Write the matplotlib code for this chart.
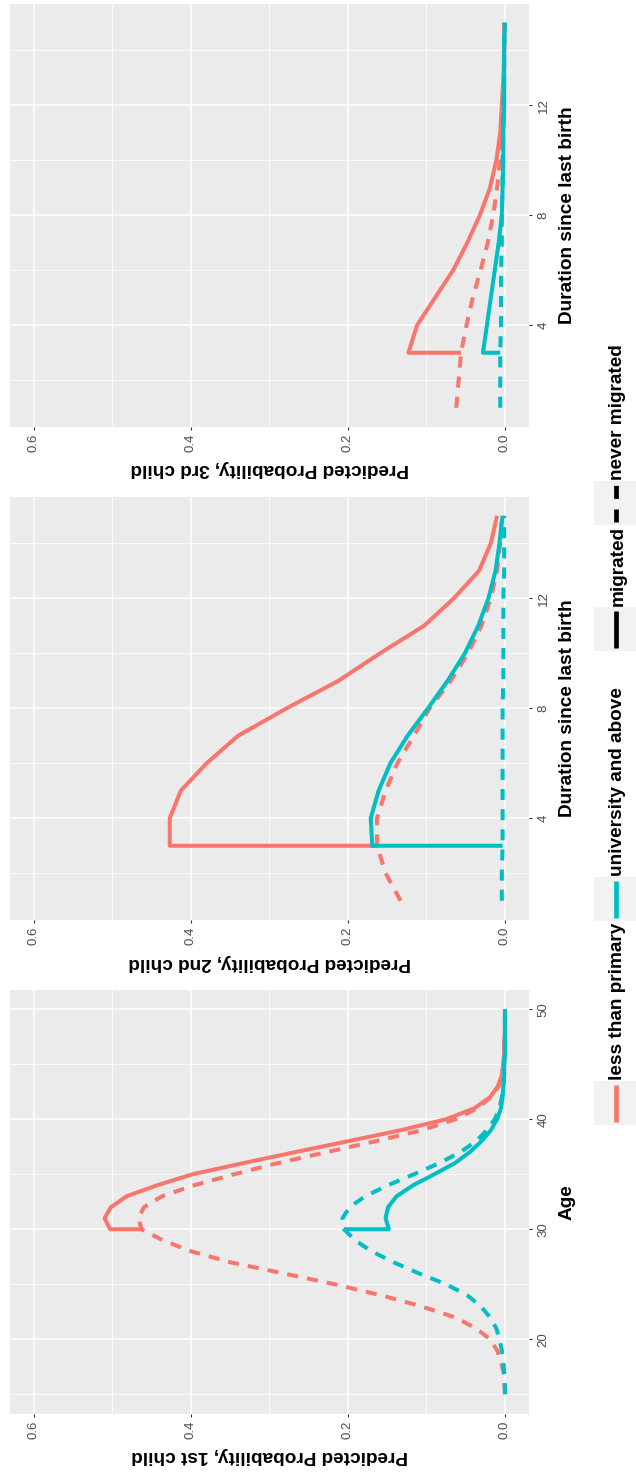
import numpy as np
import matplotlib.pyplot as plt
from matplotlib.patches import Rectangle

plt.rcParams['font.family'] = ['Liberation Sans', 'DejaVu Sans']

RED = '#F8766D'
TEAL = '#00BFC4'

# ---- 1st child, by age ----
age = np.arange(15, 51)
age_mig = np.r_[30, np.arange(30, 51)]   # migrants start at 30 (step at migration)

p1_low_never = [0.000, 0.001, 0.002, 0.005, 0.010, 0.019, 0.037, 0.064, 0.107, 0.158,
                0.217, 0.283, 0.350, 0.400, 0.436, 0.463, 0.467, 0.460, 0.437, 0.396,
                0.345, 0.290, 0.228, 0.165, 0.106, 0.063, 0.035, 0.018, 0.008, 0.004,
                0.002, 0.001, 0.001, 0.000, 0.000, 0.000]
p1_low_mig = [0.463, 0.503, 0.510, 0.502, 0.482, 0.443, 0.398, 0.334, 0.268, 0.200,
              0.133, 0.075, 0.039, 0.019, 0.009, 0.004, 0.002, 0.001, 0.001, 0.000,
              0.000, 0.000]
p1_uni_never = [0.000, 0.000, 0.001, 0.002, 0.004, 0.007, 0.011, 0.019, 0.031, 0.048,
                0.075, 0.110, 0.142, 0.170, 0.191, 0.205, 0.207, 0.198, 0.178, 0.149,
                0.116, 0.084, 0.057, 0.037, 0.023, 0.013, 0.007, 0.004, 0.002, 0.001,
                0.001, 0.000, 0.000, 0.000, 0.000, 0.000]
p1_uni_mig = [0.205, 0.148, 0.152, 0.149, 0.138, 0.117, 0.090, 0.064, 0.045, 0.030,
              0.018, 0.010, 0.005, 0.003, 0.002, 0.001, 0.001, 0.000, 0.000, 0.000,
              0.000, 0.000]

# ---- 2nd and 3rd child, by duration since last birth ----
dur = np.arange(1, 16)
dur_mig = np.r_[3, np.arange(3, 16)]

p2_low_never = [0.133, 0.152, 0.163, 0.163, 0.152, 0.137, 0.116, 0.096, 0.069, 0.047,
                0.030, 0.018, 0.010, 0.006, 0.004]
p2_low_mig = [0.163, 0.427, 0.427, 0.413, 0.380, 0.340, 0.278, 0.212, 0.159, 0.103,
              0.065, 0.033, 0.018, 0.010]
p2_uni_never = [0.004, 0.004, 0.003, 0.003, 0.003, 0.003, 0.003, 0.003, 0.002, 0.002,
                0.002, 0.002, 0.001, 0.001, 0.001]
p2_uni_mig = [0.003, 0.169, 0.171, 0.161, 0.146, 0.124, 0.098, 0.073, 0.051, 0.034,
              0.021, 0.012, 0.007, 0.003]

p3_low_never = [0.062, 0.059, 0.056, 0.049, 0.041, 0.031, 0.022, 0.015, 0.010, 0.006,
                0.004, 0.002, 0.001, 0.001, 0.000]
p3_low_mig = [0.056, 0.123, 0.112, 0.089, 0.066, 0.048, 0.032, 0.019, 0.011, 0.006,
              0.004, 0.002, 0.001, 0.001]
p3_uni_never = [0.006, 0.006, 0.006, 0.005, 0.005, 0.005, 0.004, 0.004, 0.003, 0.003,
                0.002, 0.002, 0.001, 0.001, 0.001]
p3_uni_mig = [0.006, 0.028, 0.023, 0.018, 0.013, 0.008, 0.004, 0.003, 0.002, 0.002,
              0.001, 0.001, 0.001, 0.000]

prob_ticks = [0.0, 0.2, 0.4, 0.6]
prob_labels = ['0.0', '0.2', '0.4', '0.6']
edu_labels = ['less than primary', 'university and above']
mig_labels = ['migrated', 'never migrated']

W, H = 636, 1474
fig = plt.figure(figsize=(W / 100, H / 100), dpi=100)
fig.patch.set_facecolor('white')

PANEL_H = 423.5
DASH = (0, (2.75, 2.25))


def add_panel(top, x, x_mig, series, xlim, ticks, minor, title, xlabel):
    ax = fig.add_axes([10.4 / W, 1 - (top + PANEL_H) / H, 518.1 / W, PANEL_H / H])
    ax.set_facecolor('#EBEBEB')
    for s in ax.spines.values():
        s.set_visible(False)
    # probability runs right-to-left, time runs upward
    ax.set_xlim(0.63, -0.03)
    ax.set_ylim(*xlim)
    ax.set_xticks(prob_ticks)
    ax.set_xticklabels(prob_labels)
    ax.set_xticks([0.1, 0.3, 0.5], minor=True)
    ax.set_yticks(ticks)
    ax.set_yticks(minor, minor=True)
    ax.set_axisbelow(True)
    ax.grid(which='major', color='white', lw=1.1)
    ax.grid(which='minor', color='white', lw=0.6)
    ax.tick_params(which='minor', length=0)
    ax.tick_params(which='major', length=2.5, width=0.8, color='#333333',
                   labelcolor='#4D4D4D', labelsize=9.5)
    ax.tick_params(axis='x', labelrotation=90, pad=2.5)
    ax.yaxis.tick_right()
    ax.tick_params(axis='y', labelrotation=90, pad=4)
    for lab in ax.get_yticklabels():
        lab.set_va('center')

    low_never, low_mig, uni_never, uni_mig = series
    kw = dict(lw=2.9, solid_capstyle='butt', dash_capstyle='butt')
    ax.plot(low_never, x, color=RED, ls=DASH, **kw)
    ax.plot(low_mig, x_mig, color=RED, **kw)
    ax.plot(uni_never, x, color=TEAL, ls=DASH, **kw)
    ax.plot(uni_mig, x_mig, color=TEAL, **kw)

    ax.set_xlabel(title, rotation=180, fontsize=13.7, fontweight='bold',
                  va='center', ha='center')
    ax.xaxis.set_label_coords(0.5, -42 / PANEL_H)
    ax.yaxis.set_label_position('right')
    ax.set_ylabel(xlabel, rotation=90, fontsize=13.7, fontweight='bold',
                  va='center', ha='center')
    ax.yaxis.set_label_coords(556.6 / 518.1, 0.5)
    return ax


add_panel(990, age, age_mig, (p1_low_never, p1_low_mig, p1_uni_never, p1_uni_mig),
          (13.25, 51.75), [20, 30, 40, 50], [15, 25, 35, 45],
          'Predicted Probability, 1st child', 'Age')
add_panel(496.5, dur, dur_mig, (p2_low_never, p2_low_mig, p2_uni_never, p2_uni_mig),
          (0.3, 15.7), [4, 8, 12], [2, 6, 10, 14],
          'Predicted Probability, 2nd child', 'Duration since last birth')
add_panel(3.5, dur, dur_mig, (p3_low_never, p3_low_mig, p3_uni_never, p3_uni_mig),
          (0.3, 15.7), [4, 8, 12], [2, 6, 10, 14],
          'Predicted Probability, 3rd child', 'Duration since last birth')

# legend strip along the right edge, laid out in pixel units
lax = fig.add_axes([0, 0, 1, 1])
lax.set_xlim(0, W)
lax.set_ylim(H, 0)
lax.axis('off')

keys = [
    (1081, RED, '-', edu_labels[0]),
    (877, TEAL, '-', edu_labels[1]),
    (607, 'black', '-', mig_labels[0]),
    (481, 'black', DASH, mig_labels[1]),
]
for top, col, ls, label in keys:
    lax.add_patch(Rectangle((594, top), 44, 44, fc='#F2F2F2', ec='none'))
    lax.plot([616, 616], [top + 41, top + 4], color=col, ls=ls, lw=3.4,
             solid_capstyle='butt', dash_capstyle='butt')
    lax.text(618, top - 1, label, rotation=90, ha='center', va='bottom',
             fontsize=13.7, fontweight='bold', color='black')

fig.savefig('out.png', dpi=100, facecolor='white')
